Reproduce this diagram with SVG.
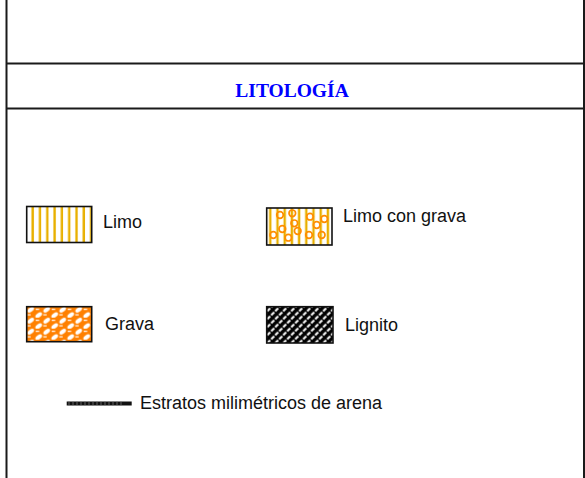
<svg xmlns="http://www.w3.org/2000/svg" width="585" height="478" viewBox="0 0 585 478">
<style>
.frame{stroke:#1a1a1a;stroke-width:2;fill:none}
.lbl{font-family:"Liberation Sans",Arial,sans-serif;font-size:18px;fill:#111}
.title{font-family:"Liberation Serif","Times New Roman",serif;font-size:19.5px;font-weight:bold;fill:#0000ff}
.box{stroke:#111;stroke-width:1.6}
.stripe{stroke:#e8b000;stroke-width:2.4}
.peb{fill:none;stroke:#ff8c00;stroke-width:1.7}
</style>
<defs>
<pattern id="pLimo" x="29.3" y="0" width="7.3" height="10" patternUnits="userSpaceOnUse">
<line class="stripe" x1="3.4" y1="0" x2="3.4" y2="10"/>
</pattern>
<pattern id="pGrava" x="26.7" y="306.7" width="16" height="11" patternUnits="userSpaceOnUse">
<rect width="16" height="11" fill="#ff8000"/>
<ellipse cx="4" cy="3" rx="3.8" ry="2" fill="#fff" transform="rotate(-35 4 3)"/>
<ellipse cx="12" cy="8.5" rx="3.8" ry="2" fill="#fff" transform="rotate(-35 12 8.5)"/>
<rect x="9" y="2" width="3.5" height="1.2" fill="#fff"/>
<rect x="0.5" y="7.5" width="3.5" height="1.2" fill="#fff"/>
</pattern>
<pattern id="pLig" x="266.7" y="306.7" width="8" height="8" patternUnits="userSpaceOnUse">
<rect width="8" height="8" fill="#000"/>
<line x1="0.5" y1="4.5" x2="3.5" y2="1.5" stroke="#fff" stroke-width="2"/>
<line x1="4.5" y1="8.5" x2="7.5" y2="5.5" stroke="#fff" stroke-width="2"/>
<line x1="4.5" y1="0.5" x2="7.5" y2="-2.5" stroke="#fff" stroke-width="2"/>
<line x1="-3.5" y1="8.5" x2="-0.5" y2="5.5" stroke="#fff" stroke-width="2"/>
</pattern>
<pattern id="pLcg" x="266.7" y="0" width="7.2" height="10" patternUnits="userSpaceOnUse">
<line class="stripe" x1="3.6" y1="0" x2="3.6" y2="10"/>
</pattern>
</defs>
<g id="frame">
<line class="frame" x1="6.5" y1="0" x2="6.5" y2="478"/>
<line class="frame" x1="584" y1="0" x2="584" y2="478"/>
<line class="frame" x1="6.5" y1="63.5" x2="584" y2="63.5"/>
<line class="frame" x1="6.5" y1="108.5" x2="584" y2="108.5"/>
</g>
<g id="title">
<text class="title" x="292" y="96.5" text-anchor="middle">LITOLOGÍA</text>
</g>
<g id="limo">
<rect class="box" x="26.7" y="206.5" width="65" height="36" fill="url(#pLimo)"/>
<text class="lbl" x="103" y="228.3">Limo</text>
</g>
<g id="limo-con-grava">
<rect class="box" x="266.7" y="208" width="65.3" height="37" fill="url(#pLcg)"/>
<g class="peb">
<circle cx="280" cy="215" r="3.3"/>
<circle cx="292.3" cy="213.3" r="3.3"/>
<circle cx="310" cy="216.7" r="3.3"/>
<circle cx="324.3" cy="219" r="3.3"/>
<circle cx="294.3" cy="223.3" r="3.3"/>
<circle cx="316.7" cy="225" r="3.3"/>
<circle cx="282.3" cy="229" r="3.3"/>
<circle cx="297.7" cy="231" r="3.3"/>
<circle cx="288.3" cy="237.7" r="3.3"/>
<circle cx="273.3" cy="235" r="3.3"/>
<circle cx="309" cy="235" r="3.3"/>
<circle cx="321.7" cy="235" r="3.3"/>
</g>
<text class="lbl" x="343" y="221.7">Limo con grava</text>
</g>
<g id="grava">
<rect class="box" x="26.7" y="306.7" width="65" height="35" fill="url(#pGrava)"/>
<text class="lbl" x="105" y="330">Grava</text>
</g>
<g id="lignito">
<rect class="box" x="266.7" y="306.7" width="66.3" height="36.3" fill="url(#pLig)"/>
<text class="lbl" x="345" y="330.7">Lignito</text>
</g>
<g id="estratos">
<line x1="66.7" y1="403.5" x2="131.7" y2="403.5" stroke="#111" stroke-width="4"/>
<path d="M69 401.5v4M73 401.5v4M77 401.5v4M81 401.5v4M85 401.5v4M89 401.5v4M93 401.5v4M97 401.5v4M101 401.5v4M105 401.5v4M109 401.5v4M113 401.5v4M117 401.5v4M121 401.5v4" stroke="#777" stroke-width="0.8"/>
<text class="lbl" x="140" y="409">Estratos milimétricos de arena</text>
</g>
</svg>
